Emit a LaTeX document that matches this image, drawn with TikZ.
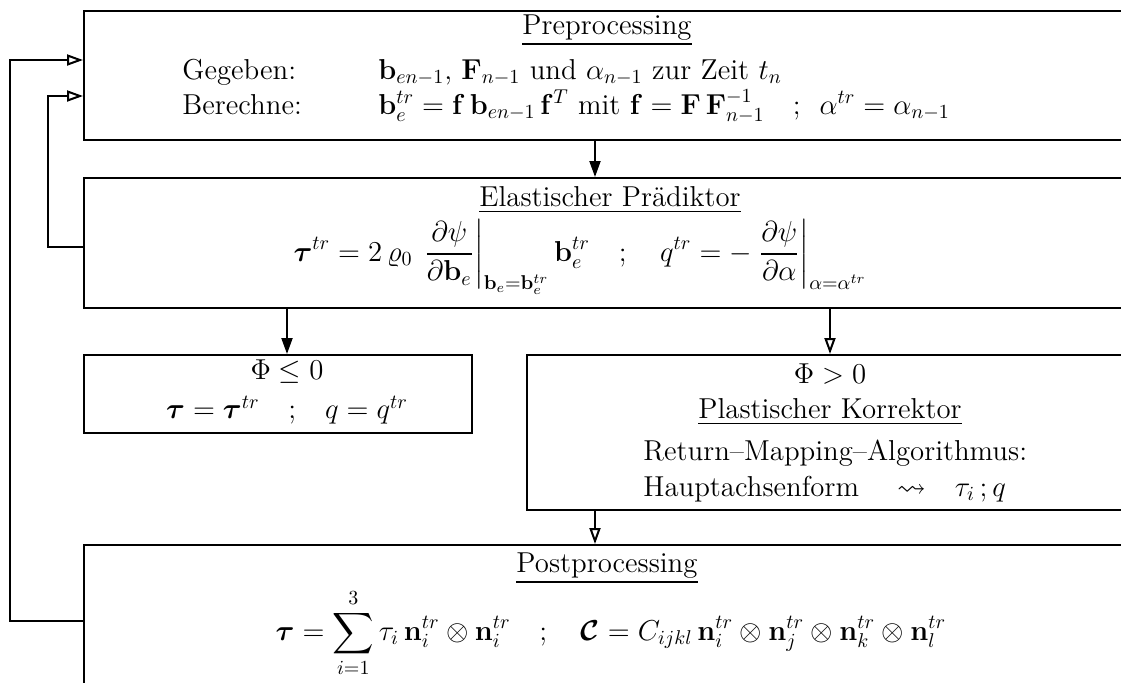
\documentclass[tikz,border=0pt]{standalone}
\usepackage{amsmath,amssymb,bm}
\usetikzlibrary{arrows.meta,fit}
\tikzset{
  box/.style={draw, line width=1pt, inner sep=0pt},
  lbl/.style={inner sep=0pt},
  farr/.style={line width=1pt, -{Triangle[length=8pt,width=5.5pt]}},
  oarr/.style={line width=1pt, -{Triangle[open,length=8pt,width=5.5pt]}},
  fline/.style={line width=1pt}
}
\begin{document}
\begin{tikzpicture}[x=0.5pt,y=-0.5pt,font=\fontsize{14.4}{17}\selectfont]
\useasboundingbox (0,0) rectangle (1121,682);
\clip (0,0) rectangle (1121,682);
% boxes
\node[box, fit={(84,11) (1160,140)}] (pre) {};
\node[box, fit={(84,178) (1160,308)}] (elast) {};
\node[box, fit={(84,355) (472,433)}] (elas) {};
\node[box, fit={(527,355) (1160,510)}] (plas) {};
\node[box, fit={(84,545) (1160,720)}] (post) {};
% texts: preprocessing
\node[lbl] (pret) at (607,30) {\underline{Preprocessing}};
\node[lbl, anchor=base west] (geg) at (182,79) {Gegeben:};
\node[lbl, anchor=base west] (gegm) at (378,79) {$\mathbf{b}_{en-1}$, $\mathbf{F}_{n-1}$ und $\alpha_{n-1}$ zur Zeit $t_n$};
\node[lbl, anchor=base west] (ber) at (182,114) {Berechne:};
\node[lbl, anchor=base west] (berm) at (378,114) {$\mathbf{b}_e^{tr} = \mathbf{f}\,\mathbf{b}_{en-1}\,\mathbf{f}^T$ mit $\mathbf{f}=\mathbf{F}\,\mathbf{F}^{-1}_{n-1}$ \ \ ;\ \ $\alpha^{tr}=\alpha_{n-1}$};
% elastic predictor
\node[lbl] (elt) at (610,200) {\underline{Elastischer Prädiktor}};
\node[lbl] (elm) at (580,257) {$\displaystyle \bm{\tau}^{tr} = 2\,\varrho_0\,\left.\frac{\partial\psi}{\partial\mathbf{b}_e}\right|_{\mathbf{b}_e=\mathbf{b}_e^{tr}}\mathbf{b}_e^{tr} \quad;\quad q^{tr} = -\left.\frac{\partial\psi}{\partial\alpha}\right|_{\alpha=\alpha^{tr}}$};
% elastic case
\node[lbl] (phi1) at (287,372) {$\Phi\leq 0$};
\node[lbl] (el1) at (287,410) {$\bm{\tau}=\bm{\tau}^{tr}$\quad;\quad$q=q^{tr}$};
% plastic case
\node[lbl] (phi2) at (830,374) {$\Phi > 0$};
\node[lbl] (plt) at (830,412) {\underline{Plastischer Korrektor}};
\node[lbl, anchor=base west] (rma) at (643,460) {Return--Mapping--Algorithmus:};
\node[lbl, anchor=base west] (hpt) at (643,496) {Hauptachsenform \quad$\rightsquigarrow$\quad $\tau_i$\,;\,$q$};
% postprocessing
\node[lbl] (pot) at (607,568) {\underline{Postprocessing}};
\node[lbl] (pom) at (611,633) {$\displaystyle \bm{\tau} = \sum_{i=1}^{3}\tau_i\,\mathbf{n}_i^{tr}\otimes\mathbf{n}_i^{tr} \quad;\quad \bm{\mathcal{C}} = C_{ijkl}\,\mathbf{n}_i^{tr}\otimes\mathbf{n}_j^{tr}\otimes\mathbf{n}_k^{tr}\otimes\mathbf{n}_l^{tr}$};
% x and y helpers
\coordinate (xa) at (595,0);
\coordinate (xb) at (287,0);
\coordinate (xc) at (830,0);
\coordinate (fo) at (10,0);
\coordinate (fi) at (48,0);
\coordinate (ya) at (0,60);
\coordinate (yb) at (0,96);
\coordinate (yc) at (0,247);
\coordinate (yd) at (0,621);
% connectors
\draw[farr] (pre.south -| xa) -- (elast.north -| xa);
\draw[farr] (elast.south -| xb) -- (elas.north -| xb);
\draw[oarr] (elast.south -| xc) -- (plas.north -| xc);
\draw[oarr] (plas.south -| xa) -- (post.north -| xa);
\draw[oarr] (post.west |- yd) -- (fo |- yd) -- (fo |- ya) -- (pre.west |- ya);
\draw[oarr] (elast.west |- yc) -- (fi |- yc) -- (fi |- yb) -- (pre.west |- yb);
\end{tikzpicture}
\end{document}
